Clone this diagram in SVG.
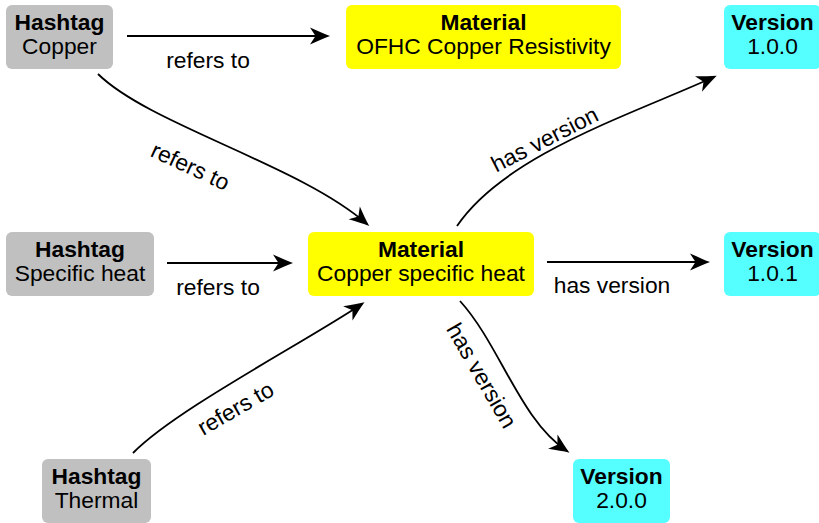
<svg xmlns="http://www.w3.org/2000/svg" width="819" height="523" viewBox="0 0 819 523">
<style>
text{font-family:"Liberation Sans",Arial,sans-serif;font-size:22.8px;fill:#000;text-anchor:middle}
.b{font-weight:bold}
.tag{fill:#c0c0c0}
.mat{fill:#ffff00}
.ver{fill:#55ffff}
.e{fill:none;stroke:#000;stroke-width:1.8;marker-end:url(#ah)}
</style>
<defs>
<marker id="ah" markerUnits="userSpaceOnUse" viewBox="-20 -10 30 20" markerWidth="30" markerHeight="20" refX="0" refY="0" orient="auto" overflow="visible">
<path d="M3,0 C-3,-2 -9,-5 -17,-8.5 L-11.5,0 L-17,8.5 C-9,5 -3,2 3,0 Z" fill="#000"/>
</marker>
</defs>
<g id="n-hashtag-copper"><rect class="tag" x="6" y="5" width="107" height="64" rx="6"/><text class="b" x="59.5" y="30">Hashtag</text><text x="59.5" y="54">Copper</text></g>
<g id="n-material-ofhc"><rect class="mat" x="346" y="5" width="275" height="64" rx="6"/><text class="b" x="483.5" y="30">Material</text><text x="483.5" y="54">OFHC Copper Resistivity</text></g>
<g id="n-version-100"><rect class="ver" x="724" y="5" width="97" height="64" rx="6"/><text class="b" x="772.5" y="30">Version</text><text x="772.5" y="54">1.0.0</text></g>
<g id="n-hashtag-specific"><rect class="tag" x="6" y="232" width="148" height="64" rx="6"/><text class="b" x="80" y="257">Hashtag</text><text x="80" y="281">Specific heat</text></g>
<g id="n-material-csh"><rect class="mat" x="308" y="232" width="226" height="64" rx="6"/><text class="b" x="421" y="257">Material</text><text x="421" y="281">Copper specific heat</text></g>
<g id="n-version-101"><rect class="ver" x="724" y="232" width="97" height="64" rx="6"/><text class="b" x="772.5" y="257">Version</text><text x="772.5" y="281">1.0.1</text></g>
<g id="n-hashtag-thermal"><rect class="tag" x="42" y="459" width="109" height="64" rx="6"/><text class="b" x="96.5" y="484">Hashtag</text><text x="96.5" y="508">Thermal</text></g>
<g id="n-version-200"><rect class="ver" x="573" y="459" width="97" height="64" rx="6"/><text class="b" x="621.5" y="484">Version</text><text x="621.5" y="508">2.0.0</text></g>
<g id="connectors">
<path class="e" d="M127,36 H327"/>
<text x="208" y="68">refers to</text>
<path class="e" d="M98,74 C150,125 300,165 367,224"/>
<text transform="translate(190,167) rotate(25)" y="7">refers to</text>
<path class="e" d="M167,263 H290"/>
<text x="218" y="295">refers to</text>
<path class="e" d="M133,453 C175,410 300,345 362,304"/>
<text transform="translate(236,409) rotate(-30)" y="7">refers to</text>
<path class="e" d="M457,226 C505,155 630,115 714,77"/>
<text transform="translate(545,140) rotate(-27)" y="7">has version</text>
<path class="e" d="M547,262 H707"/>
<text x="612" y="293">has version</text>
<path class="e" d="M460,301 C500,345 520,420 567,451"/>
<text transform="translate(481,376) rotate(60)" y="7">has version</text>
</g>
</svg>
